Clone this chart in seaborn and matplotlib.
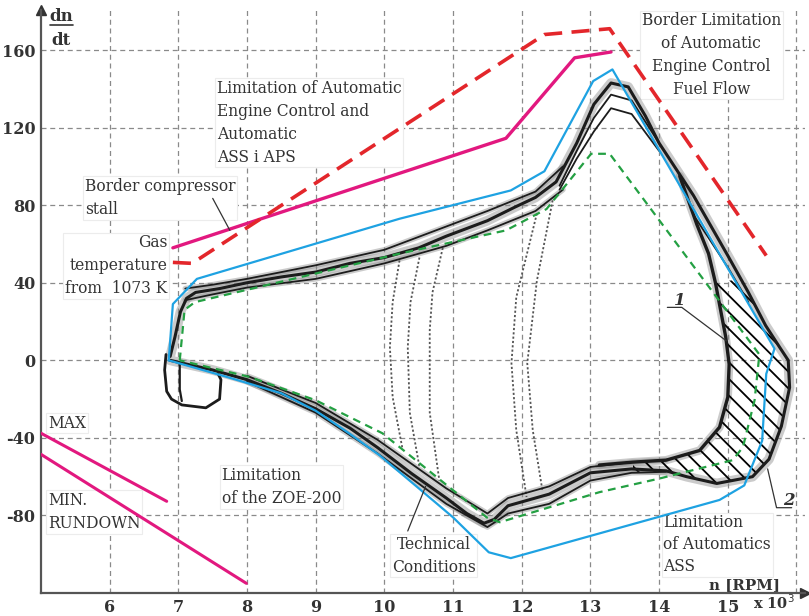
import seaborn as sns
import matplotlib.pyplot as plt
from matplotlib.lines import Line2D

# limit lines (x in 10^3 RPM, y = dn/dt)
stall_x = [6.92, 11.77, 12.77, 13.3]
stall_y = [58, 114.5, 156, 159]

fuel_x = [6.92, 7.2, 12.33, 13.28, 15.56]
fuel_y = [50.5, 50, 168, 171, 54]

ass_x = [6.86, 6.92, 7.27, 10.22, 11.84, 12.33, 13.04, 13.32, 15.68, 15.56, 15.5, 15.24,
         14.88, 11.84, 11.52, 11.0, 10.5, 9.93, 9.5, 9.0, 8.5, 7.7, 6.86]
ass_y = [0, 29, 42, 73, 87.6, 97.5, 144, 150, 6, -7, -41.5, -64.5,
         -72, -102, -99, -81, -66, -49, -38, -26, -17, -8.5, 0]

tc_x = [7.02, 7.09, 7.24, 10.22, 11.77, 12.36, 13.01, 13.28, 15.46, 15.39, 15.22, 15.07,
        14.0, 13.13, 11.68, 11.49, 9.97, 9.0, 8.04, 7.02]
tc_y = [0, 26, 30, 55, 67, 78, 106.5, 106.5, 3, -20.6, -44.8, -51.5,
        -61, -68, -83.5, -81, -37.6, -20.6, -8.6, 0]

max_x = [5.0, 6.83]
max_y = [-37.6, -72.7]
min_x = [5.0, 7.99]
min_y = [-48.5, -115]

# recorded transients (black)
loop_x = [6.88, 6.95, 7.03, 7.12, 7.25, 7.6, 8.0, 8.5, 9.0, 9.5, 10.0, 10.5, 10.9, 11.5, 11.9,
          12.2, 12.5, 12.8, 13.05, 13.3, 13.55, 13.8, 14.0, 14.5, 15.0, 15.3, 15.55, 15.75,
          15.88, 15.9, 15.78, 15.6, 15.36, 14.84, 14.4, 14.1, 13.6, 13.0, 12.4, 11.8, 11.6,
          11.45, 11.2, 10.9, 10.4, 9.9, 9.5, 9.0, 8.5, 8.0, 7.5, 7.0, 6.88]
loop_y = [2, 12, 25, 32, 35, 37, 40, 43, 45.5, 50, 53, 58, 64, 72, 79,
          84, 92, 112, 132, 143, 141, 126, 112, 85, 54, 35, 18, 7,
          0, -14, -34, -51, -60, -63.5, -60, -57, -56, -58, -69, -75, -82,
          -84, -79, -71, -58.5, -45, -35, -25, -17, -10, -5, -1, 0]

up_x = [7.1, 7.5, 8.0, 9.0, 10.0, 10.9, 11.5, 12.2, 12.6]
up_hi_y = [37, 39, 42, 49, 57, 69, 77, 87, 100]
up_lo_y = [31, 34, 37.5, 42, 50, 59, 67, 77, 88]

low_x = [8.0, 9.0, 9.9, 10.9, 11.5, 11.8, 12.4, 13.0, 13.6, 14.1]
low_hi_y = [-8, -22, -41, -66, -79, -71, -65, -55, -52.5, -51.5]
low_lo_y = [-11, -27, -48, -74, -86, -79, -74, -62, -58, -57.5]

peak_x = [12.55, 12.8, 13.05, 13.3, 13.6, 14.0]
peak1_y = [90, 108, 125, 137, 134, 112]
peak2_y = [88, 104, 118, 130, 127, 108]

inner_x = [14.3, 14.55, 14.72, 14.82, 14.9, 14.97, 15.02, 15.0, 14.88, 14.59, 14.1, 13.62, 13.13]
inner_y = [95, 70, 55, 40, 25, 12, -2, -19, -34.5, -46.5, -51.5, -52.5, -54]

cross_x = [14.5, 15.0, 15.3]
cross_y = [75, 48, 30]

start_x = [6.82, 6.8, 6.83, 6.9, 7.05, 7.4, 7.6, 7.62, 7.58]
start_y = [3, -5, -16, -20, -23, -24.5, -20, -10, -7]
start2_x = [7.02, 7.02, 7.05]
start2_y = [-1, -15, -21]

traces = [
    ([10.22, 10.12, 10.08, 10.12, 10.26], [51.5, 30, 6.7, -19, -45]),
    ([10.51, 10.38, 10.34, 10.37, 10.51], [53, 30, 6.7, -27, -55]),
    ([10.85, 10.7, 10.66, 10.66, 10.8], [58, 35, 15.5, -27, -62]),
    ([12.22, 11.92, 11.85, 11.92, 12.07], [75.7, 32.5, -1.5, -36, -70.5]),
    ([12.45, 12.22, 12.08, 12.16, 12.3], [82.5, 41, -1.5, -36, -67]),
]

hatch_x = [14.82, 14.9, 14.97, 15.02, 15.0, 14.88, 14.59, 14.1, 13.62,
           13.62, 14.1, 14.84, 15.36, 15.6, 15.78, 15.9, 15.88, 15.75, 15.55, 15.3, 15.2]
hatch_y = [40, 25, 12, -2, -19, -34.5, -46.5, -51.5, -52.5,
           -57.5, -57.5, -63.5, -60, -51, -34, -14, 0, 7, 18, 35, 42]

x_ticks = [6, 7, 8, 9, 10, 11, 12, 13, 14, 15]
y_ticks = [-80, -40, 0, 40, 80, 120, 160]

sns.set_theme(style='white')
plt.rcParams['font.family'] = ['DejaVu Serif']
plt.rcParams['hatch.linewidth'] = 1.3

fig = plt.figure(figsize=(8.09, 6.16), dpi=100)
ax = fig.add_axes([0.0507, 0.0373, 0.944, 0.946])
ax.set_xlim(5.0, 16.12)
ax.set_ylim(-120, 180.5)

# grid
for gx in range(6, 17):
    ax.axvline(gx, color='#8a8a8a', lw=0.9, ls=(0, (4, 3)), zorder=0.5)
for gy in range(-80, 161, 40):
    ax.axhline(gy, color='#8a8a8a', lw=0.9, ls=(0, (4, 3)), zorder=0.5)

ink = '#1c1c1c'
haze = '#8c8c8c'

# fuzzy bands of the recordings
sns.lineplot(x=loop_x, y=loop_y, sort=False, estimator=None, ax=ax, color=haze, lw=7, alpha=0.45, zorder=2)
sns.lineplot(x=up_x, y=up_hi_y, sort=False, estimator=None, ax=ax, color=haze, lw=4, alpha=0.45, zorder=2)
sns.lineplot(x=up_x, y=up_lo_y, sort=False, estimator=None, ax=ax, color=haze, lw=4, alpha=0.45, zorder=2)
sns.lineplot(x=low_x, y=low_hi_y, sort=False, estimator=None, ax=ax, color=haze, lw=4, alpha=0.45, zorder=2)
sns.lineplot(x=low_x, y=low_lo_y, sort=False, estimator=None, ax=ax, color=haze, lw=4, alpha=0.45, zorder=2)

ax.fill(hatch_x, hatch_y, facecolor='none', edgecolor='black', hatch='\\\\', lw=0, zorder=2.2)

for tx, ty in traces:
    sns.lineplot(x=tx, y=ty, sort=False, estimator=None, ax=ax, color='#555555', lw=1.3,
                 linestyle=(0, (1.2, 1.2)), zorder=2.3)

sns.lineplot(x=loop_x, y=loop_y, sort=False, estimator=None, ax=ax, color=ink, lw=2.2, zorder=2.5)
for yy, xx in [(up_hi_y, up_x), (up_lo_y, up_x), (low_hi_y, low_x), (low_lo_y, low_x),
               (peak1_y, peak_x), (peak2_y, peak_x), (cross_y, cross_x)]:
    sns.lineplot(x=xx, y=yy, sort=False, estimator=None, ax=ax, color=ink, lw=1.3, zorder=2.5)
sns.lineplot(x=inner_x, y=inner_y, sort=False, estimator=None, ax=ax, color=haze, lw=6, alpha=0.45, zorder=2)
sns.lineplot(x=inner_x, y=inner_y, sort=False, estimator=None, ax=ax, color=ink, lw=2.4, zorder=2.5)
sns.lineplot(x=start_x, y=start_y, sort=False, estimator=None, ax=ax, color=ink, lw=2.0, zorder=2.5)
sns.lineplot(x=start2_x, y=start2_y, sort=False, estimator=None, ax=ax, color=ink, lw=1.6, zorder=2.5)

# limit lines
sns.lineplot(x=tc_x, y=tc_y, sort=False, estimator=None, ax=ax, color='#24a043', lw=1.6,
             linestyle=(0, (3.5, 2.5)), zorder=3)
sns.lineplot(x=ass_x, y=ass_y, sort=False, estimator=None, ax=ax, color='#1ea2e2', lw=1.6, zorder=3.1)
sns.lineplot(x=stall_x, y=stall_y, sort=False, estimator=None, ax=ax, color='#e2187f', lw=2.4, zorder=3.2)
sns.lineplot(x=fuel_x, y=fuel_y, sort=False, estimator=None, ax=ax, color='#e3262b', lw=2.6,
             linestyle=(0, (5, 2.6)), zorder=3.2)
sns.lineplot(x=max_x, y=max_y, sort=False, estimator=None, ax=ax, color='#e2187f', lw=2.2, zorder=3.2)
sns.lineplot(x=min_x, y=min_y, sort=False, estimator=None, ax=ax, color='#e2187f', lw=2.2, zorder=3.2)

# leaders
lead = dict(color='#333333', lw=0.9, zorder=3.5)
ax.plot([7.5, 7.75], [83.5, 67], **lead)
ax.plot([10.34, 10.6], [-88, -65], **lead)
ax.plot([14.12, 14.33, 14.98], [27.3, 27.3, 10], **lead)
ax.plot([15.93, 15.71, 15.58], [-76, -76, -56], **lead)
ax.text(14.22, 28.5, '1', fontsize=12, style='italic', fontweight='bold', color='#333', zorder=4)
ax.text(15.8, -74.5, '2', fontsize=12, style='italic', fontweight='bold', color='#333', zorder=4)

# annotations
box = dict(facecolor='white', edgecolor='#ececec', lw=0.8, pad=1.2)
txt = dict(fontsize=11.2, color='#333333', linespacing=1.45, va='top', zorder=1.5, bbox=box)
ax.text(7.56, 144.5, 'Limitation of Automatic\nEngine Control and\nAutomatic\nASS i APS', **txt)
ax.text(5.64, 94, 'Border compressor\nstall', **txt)
ax.text(6.84, 65, 'Gas\ntemperature\nfrom  1073 K', ha='right', multialignment='right', **txt)
ax.text(14.76, 179.5, 'Border Limitation\nof Automatic\nEngine Control\nFuel Flow', ha='center',
        multialignment='center', **txt)
ax.text(5.1, -28, 'MAX', **txt)
ax.text(5.1, -68, 'MIN.\nRUNDOWN', **txt)
ax.text(7.63, -55, 'Limitation\nof the ZOE-200', **txt)
ax.text(10.72, -90.5, 'Technical\nConditions', ha='center', multialignment='center', **txt)
ax.text(14.06, -79.5, 'Limitation\nof Automatics\nASS', **{**txt, 'linespacing': 1.38})
ax.text(14.73, -115.8, 'n [RPM]', fontsize=10.8, fontweight='bold', color='#333', va='center', zorder=4)

# axes styling
ax.set_xticks(x_ticks)
ax.set_yticks(y_ticks)
ax.set_xticklabels([str(v) for v in x_ticks], fontsize=11.5, fontweight='bold', color='#333')
ax.set_yticklabels([str(v) for v in y_ticks], fontsize=11.5, fontweight='bold', color='#333')
ax.tick_params(length=0, pad=4)
ax.set_xlabel('')
ax.set_ylabel('')
for s in ['top', 'right']:
    ax.spines[s].set_visible(False)
for s in ['left', 'bottom']:
    ax.spines[s].set_color('#555555')
    ax.spines[s].set_linewidth(1.6)
ax.plot(1.0, 0, '>', color='#333', ms=7, transform=ax.transAxes, clip_on=False)
ax.plot(0, 1.0, '^', color='#333', ms=7, transform=ax.transAxes, clip_on=False)

fig.text(0.931, 0.022, r'x 10$^{3}$', fontsize=10.5, fontweight='bold', color='#333', va='center')
fig.text(0.0754, 0.973, 'dn', fontsize=12, fontweight='bold', color='#333', ha='center', va='center')
fig.add_artist(Line2D([0.062, 0.090], [0.959, 0.959], color='#333', lw=1.2))
fig.text(0.0754, 0.935, 'dt', fontsize=12, fontweight='bold', color='#333', ha='center', va='center')

fig.savefig('out.png', dpi=100)
